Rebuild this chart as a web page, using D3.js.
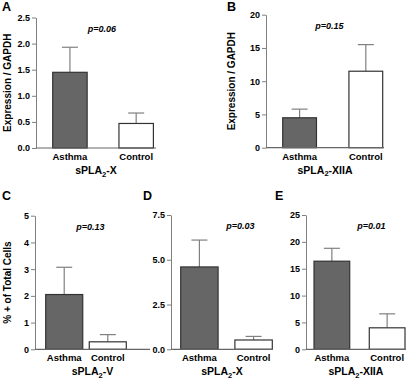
<!DOCTYPE html>
<html>
<head>
<meta charset="utf-8">
<script src="https://cdn.jsdelivr.net/npm/d3@7"></script>
<style>
  body { margin: 0; background: #fff; }
  svg { display: block; font-family: Arial, "Liberation Sans", sans-serif; }
</style>
</head>
<body>
<script>
// Data
const groups = ["Asthma", "Control"];
const panelIds = ["A", "B", "C", "D", "E"];
const genes = ["X", "XIIA", "V", "X", "XIIA"];
const means = [[1.45, 0.47], [4.5, 11.5], [2.05, 0.28], [4.6, 0.52], [16.4, 4.0]];
const errors = [[0.48, 0.2], [1.3, 4.0], [1.02, 0.27], [1.5, 0.2], [2.4, 2.6]];
const pValues = ["p=0.06", "p=0.15", "p=0.13", "p=0.03", "p=0.01"];
const yMax = [2.5, 20, 5, 7.5, 25];
const yTicks = [[0, 0.5, 1, 1.5, 2, 2.5], [0, 5, 10, 15, 20], [0, 1, 2, 3, 4, 5], [0, 2.5, 5, 7.5], [0, 5, 10, 15, 20, 25]];
const tickFmt = [".1f", "d", "d", ".1f", "d"];
const yTitles = ["Expression / GAPDH", "Expression / GAPDH", "% + of Total Cells", null, null];

// Layout of each panel (pixels)
const layout = [
  {ax: 36,  y0: 148,   yT: 17.5, xEnd: 156,   b0: 52.7,  b1: 153.4, pad: 0.48, letter: [2, 11],    pX: 102,   tX: 10.5},
  {ax: 266, y0: 147.7, yT: 14.7, xEnd: 384,   b0: 282.7, b1: 382.7, pad: 0.49, letter: [227, 11],  pX: 329.5, tX: 235},
  {ax: 35,  y0: 349.3, yT: 215.7, xEnd: 150,  b0: 45.7,  b1: 126.3, pad: 0.15, letter: [2, 200],   pX: 90.5,  tX: 10.5},
  {ax: 171, y0: 349.3, yT: 215,  xEnd: 273,   b0: 180.7, b1: 272.3, pad: 0.31, letter: [143, 200], pX: 240.5, tX: null},
  {ax: 306, y0: 349.3, yT: 215,  xEnd: 405.7, b0: 314,   b1: 405,   pad: 0.354, letter: [275, 200], pX: 371.5, tX: null}
];

const fills = ["#666666", "#ffffff"];
const axisColor = "#808080";

const svg = d3.select("body").append("svg")
  .attr("width", 415).attr("height", 380);

panelIds.forEach((id, i) => {
  const L = layout[i];
  const g = svg.append("g");

  const y = d3.scaleLinear().domain([0, yMax[i]]).range([L.y0, L.yT]);
  const x = d3.scaleBand().domain(groups).range([L.b0, L.b1]).paddingInner(L.pad).paddingOuter(0);

  // y axis
  const yAxis = g.append("g")
    .attr("transform", `translate(${L.ax},0)`)
    .call(d3.axisLeft(y).tickValues(yTicks[i]).tickFormat(d3.format(tickFmt[i]))
      .tickSize(4).tickSizeOuter(0).tickPadding(2));
  yAxis.select(".domain").attr("stroke", axisColor);
  yAxis.selectAll(".tick line").attr("stroke", axisColor);
  yAxis.selectAll(".tick text")
    .attr("font-size", 9).attr("font-weight", "bold").attr("fill", "#000")
    .attr("font-family", "Arial, 'Liberation Sans', sans-serif");

  // error bars (drawn under bars)
  groups.forEach((grp, j) => {
    const cx = x(grp) + x.bandwidth() / 2;
    const top = y(means[i][j] + errors[i][j]);
    g.append("line")
      .attr("x1", cx).attr("x2", cx)
      .attr("y1", y(means[i][j])).attr("y2", top)
      .attr("stroke", "#808080").attr("stroke-width", 1.2);
    g.append("line")
      .attr("x1", cx - 8).attr("x2", cx + 8)
      .attr("y1", top).attr("y2", top)
      .attr("stroke", "#808080").attr("stroke-width", 1.2);
  });

  // bars
  g.selectAll("rect.bar")
    .data(groups)
    .join("rect")
    .attr("class", "bar")
    .attr("x", d => x(d))
    .attr("y", (d, j) => y(means[i][j]))
    .attr("width", x.bandwidth())
    .attr("height", (d, j) => L.y0 - y(means[i][j]))
    .attr("fill", (d, j) => fills[j])
    .attr("stroke", "#333")
    .attr("stroke-width", 1.2);

  // x baseline
  g.append("line")
    .attr("x1", L.ax).attr("x2", L.xEnd)
    .attr("y1", L.y0).attr("y2", L.y0)
    .attr("stroke", "#666").attr("stroke-width", 1.2);

  // category labels
  groups.forEach(grp => {
    g.append("text")
      .attr("x", x(grp) + x.bandwidth() / 2)
      .attr("y", L.y0 + 12)
      .attr("text-anchor", "middle")
      .attr("font-size", 9.5).attr("font-weight", "bold")
      .text(grp);
  });

  // gene label with subscript
  const gl = g.append("text")
    .attr("x", (L.ax + L.xEnd) / 2)
    .attr("y", L.y0 + 26)
    .attr("text-anchor", "middle")
    .attr("font-size", 10.5).attr("font-weight", "bold");
  gl.append("tspan").text("sPLA");
  gl.append("tspan").attr("font-size", 7.5).attr("dy", 2.5).text("2");
  gl.append("tspan").attr("dy", -2.5).text("-" + genes[i]);

  // p value
  g.append("text")
    .attr("x", L.pX).attr("y", L.yT + 14)
    .attr("text-anchor", "middle")
    .attr("font-size", 9).attr("font-weight", "bold").attr("font-style", "italic")
    .text(pValues[i]);

  // panel letter
  g.append("text")
    .attr("x", L.letter[0]).attr("y", L.letter[1])
    .attr("font-size", 12.5).attr("font-weight", "bold")
    .text(id);

  // y title
  if (yTitles[i]) {
    g.append("text")
      .attr("transform", `translate(${L.tX},${(L.y0 + L.yT) / 2}) rotate(-90)`)
      .attr("text-anchor", "middle")
      .attr("font-size", 10).attr("font-weight", "bold")
      .text(yTitles[i]);
  }
});
</script>
</body>
</html>
